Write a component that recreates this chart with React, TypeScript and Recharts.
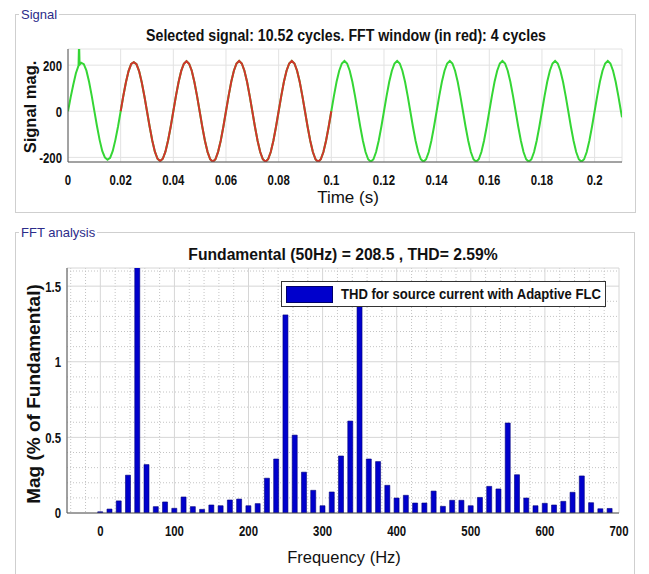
import React from "react";
import {
  LineChart, Line, BarChart, Bar, XAxis, YAxis, CartesianGrid, Legend,
} from "recharts";

// ---------- Signal panel data ----------
const sampleStep = 0.001; // s between samples
const signalValues: number[] = [
  // 0.000 - 0.019
  0, 60, 115, 165, 198, 210, 204, 176, 128, 68, 2, -64, -124, -172, -200, -210, -202, -172, -124, -66,
  // 0.020 - 0.039
  0, 66, 126, 174, 205, 213, 204, 174, 126, 66, 0, -66, -127, -175, -206, -216, -206, -175, -127, -67,
  // 0.040 - 0.059
  0, 67, 127, 175, 206, 217, 206, 176, 127, 67, 0, -67, -128, -176, -208, -219, -208, -176, -128, -67,
  // 0.060 - 0.079
  0, 67, 128, 176, 207, 218, 207, 176, 128, 67, 0, -67, -128, -177, -208, -219, -208, -177, -128, -67,
  // 0.080 - 0.099
  0, 67, 128, 176, 207, 218, 207, 176, 128, 67, 0, -67, -128, -177, -208, -220, -208, -177, -128, -67,
  // 0.100 - 0.119
  0, 67, 128, 176, 207, 218, 207, 176, 128, 67, 0, -67, -128, -177, -208, -219, -208, -177, -128, -67,
  // 0.120 - 0.139
  0, 67, 128, 176, 207, 218, 207, 176, 128, 67, 0, -67, -128, -177, -208, -219, -208, -177, -128, -67,
  // 0.140 - 0.159
  0, 67, 128, 176, 207, 218, 207, 176, 128, 67, 0, -67, -128, -177, -208, -219, -208, -177, -128, -67,
  // 0.160 - 0.179
  0, 67, 128, 176, 207, 218, 207, 176, 128, 67, 0, -67, -128, -177, -208, -219, -208, -177, -128, -67,
  // 0.180 - 0.199
  0, 67, 128, 176, 207, 218, 207, 176, 128, 67, 0, -67, -128, -177, -208, -219, -208, -177, -128, -67,
  // 0.200 - 0.210
  0, 67, 128, 176, 207, 218, 207, 176, 128, 67, 0,
];
// start-up transient spike and end point
const extraTimes: number[] = [0.0042, 0.0044, 0.2104];
const extraValues: number[] = [300, 202, -26];
const fftWindowStart = 0.02;
const fftWindowEnd = 0.1;
const timeTicks: number[] = [0, 0.02, 0.04, 0.06, 0.08, 0.1, 0.12, 0.14, 0.16, 0.18, 0.2];
const timeTickLabels: string[] = ["0", "0.02", "0.04", "0.06", "0.08", "0.1", "0.12", "0.14", "0.16", "0.18", "0.2"];
const signalTicks: number[] = [-200, 0, 200];

// ---------- FFT panel data ----------
const freqs: number[] = [
  0, 12.5, 25, 37.5, 50, 62.5, 75, 87.5, 100, 112.5, 125, 137.5, 150, 162.5, 175, 187.5,
  200, 212.5, 225, 237.5, 250, 262.5, 275, 287.5, 300, 312.5, 325, 337.5, 350, 362.5, 375, 387.5,
  400, 412.5, 425, 437.5, 450, 462.5, 475, 487.5, 500, 512.5, 525, 537.5, 550, 562.5, 575, 587.5,
  600, 612.5, 625, 637.5, 650, 662.5, 675, 687.5,
];
const mags: number[] = [
  0.008, 0.026, 0.08, 0.25, 100, 0.32, 0.042, 0.073, 0.031, 0.106, 0.042, 0.024, 0.053, 0.048, 0.086, 0.092,
  0.048, 0.062, 0.23, 0.357, 1.31, 0.515, 0.27, 0.15, 0.048, 0.139, 0.377, 0.608, 1.42, 0.357, 0.34, 0.183,
  0.099, 0.117, 0.066, 0.066, 0.145, 0.044, 0.084, 0.084, 0.048, 0.103, 0.176, 0.159, 0.595, 0.253, 0.099, 0.048,
  0.064, 0.053, 0.077, 0.137, 0.245, 0.068, 0.028, 0.03,
];
const freqDomain: [number, number] = [-45, 700];
const magDomain: [number, number] = [0, 1.62];
const freqTicks: number[] = [0, 100, 200, 300, 400, 500, 600, 700];
const freqMinor: number[] = [-40, -20, 20, 40, 60, 80, 120, 140, 160, 180, 220, 240, 260, 280, 320, 340, 360, 380, 420, 440, 460, 480, 520, 540, 560, 580, 620, 640, 660, 680];
const magTicks: number[] = [0, 0.5, 1, 1.5];
const magMinor: number[] = [0.1, 0.2, 0.3, 0.4, 0.6, 0.7, 0.8, 0.9, 1.1, 1.2, 1.3, 1.4, 1.6];
const legendLabel = "THD for source current with Adaptive FLC";

const FONT = "'Liberation Sans',Arial,Helvetica,sans-serif";
const AX = "#555555";
const GREEN = "#35d635";
const RED = "#d0352b";
const BLUE = "#0000cc";

type Row = { t: number; green: number; red: number | null };
const signalRows: Row[] = (() => {
  const pts: { t: number; v: number }[] = signalValues.map((v, i) => ({ t: +(i * sampleStep).toFixed(4), v }));
  extraTimes.forEach((t, i) => pts.push({ t, v: extraValues[i] }));
  pts.sort((a, b) => a.t - b.t);
  return pts.map((p) => ({
    t: p.t,
    green: p.v,
    red: p.t >= fftWindowStart - 1e-9 && p.t <= fftWindowEnd + 1e-9 ? p.v : null,
  }));
})();
const fftRows = freqs.map((f, i) => ({ f, mag: mags[i] }));

// minor grid positions through the axis scale (fallback: linear map of the plot box)
const minorXGen = (args: any) => {
  const s = args?.xAxis?.scale;
  const o = args?.offset ?? {};
  return freqMinor.map((v) =>
    typeof s === "function" ? s(v) : o.left + ((v - freqDomain[0]) / (freqDomain[1] - freqDomain[0])) * o.width,
  );
};
const minorYGen = (args: any) => {
  const s = args?.yAxis?.scale;
  const o = args?.offset ?? {};
  return magMinor.map((v) =>
    typeof s === "function" ? s(v) : o.top + o.height - ((v - magDomain[0]) / (magDomain[1] - magDomain[0])) * o.height,
  );
};

function Txt(props: {
  x: number; y: number; children: React.ReactNode; size: number; weight?: number | string;
  color?: string; rotate?: boolean; align?: "center" | "left"; bg?: string; sx?: number;
}) {
  const { x, y, children, size, weight = "normal", color = "#111", rotate, align = "center", bg, sx = 1 } = props;
  const tx = align === "center" ? "-50%" : "0";
  return (
    <div
      style={{
        position: "absolute", left: x, top: y, fontFamily: FONT, fontSize: size, fontWeight: weight as any,
        color, whiteSpace: "nowrap", lineHeight: 1, background: bg, padding: bg ? "0 2px" : 0,
        transform: `translate(${tx},-50%)${rotate ? " rotate(-90deg)" : ""} scaleX(${sx})`,
        transformOrigin: align === "center" ? "50% 50%" : "0 50%",
      }}
    >
      {children}
    </div>
  );
}

function NarrowTick(p: any) {
  const { x, y, textAnchor, payload, axis, fmt } = p;
  const label = fmt ? fmt(payload.value) : String(payload.value);
  const s = 0.76;
  return (
    <text
      x={x} y={y} textAnchor={textAnchor} dy={axis === "x" ? "0.72em" : "0.36em"}
      transform={`translate(${x} ${y}) scale(${s} 1) translate(${-x} ${-y})`}
      fontFamily={FONT} fontSize={15} fontWeight={700} fill="#111"
    >
      {label}
    </text>
  );
}

function LegendBox() {
  return (
    <div
      style={{
        width: 325, height: 26, border: "1px solid #333", background: "#fff", position: "relative",
        fontFamily: FONT, boxSizing: "border-box",
      }}
    >
      <div style={{ position: "absolute", left: 4, top: 4, width: 47, height: 17, background: BLUE, border: "1px solid #00006a", boxSizing: "border-box" }} />
      <div style={{ position: "absolute", left: 59, top: 12, transform: "translateY(-50%) scaleX(0.9)", transformOrigin: "0 50%", fontSize: 14.5, fontWeight: 700, color: "#111", whiteSpace: "nowrap", lineHeight: 1 }}>
        {legendLabel}
      </div>
    </div>
  );
}

export default function App() {
  const emptyFmt = () => "";
  const timeFmt = (v: number) => timeTickLabels[timeTicks.indexOf(v)] ?? "";
  return (
    <div style={{ position: "absolute", left: 0, top: 0, width: 649, height: 574, background: "#fff", overflow: "hidden" }}>
      {/* panel frames */}
      <div style={{ position: "absolute", left: 15, top: 14, width: 621, height: 199, border: "1px solid #cfcfcf", boxSizing: "border-box" }} />
      <div style={{ position: "absolute", left: 15, top: 232, width: 620, height: 400, border: "1px solid #cfcfcf", boxSizing: "border-box" }} />
      <Txt x={19} y={14} size={13} color="#2c2c8a" align="left" bg="#fff">Signal</Txt>
      <Txt x={19} y={232} size={13} color="#2c2c8a" align="left" bg="#fff">FFT analysis</Txt>

      {/* Signal chart */}
      <div style={{ position: "absolute", left: 0, top: 0 }}>
        <LineChart width={649} height={215} data={signalRows} margin={{ top: 49, right: 27, bottom: 23, left: 28 }}>
          <CartesianGrid stroke="#e2e2e2" strokeWidth={1} />
          <XAxis dataKey="t" type="number" domain={[0, 0.2104]} allowDataOverflow ticks={timeTicks} interval={0}
            tick={(p: any) => <NarrowTick {...p} axis="x" fmt={timeFmt} />}
            tickLine={false} tickSize={4} tickMargin={8} height={30} axisLine={{ stroke: AX }} />
          <XAxis xAxisId="bm" type="number" domain={[0, 0.2104]} ticks={timeTicks} interval={0} orientation="bottom" mirror height={0}
            tickFormatter={emptyFmt} axisLine={false} tickLine={{ stroke: AX }} tickSize={4} />
          <XAxis xAxisId="tm" type="number" domain={[0, 0.2104]} ticks={timeTicks} interval={0} orientation="top" mirror height={0}
            tickFormatter={emptyFmt} axisLine={{ stroke: AX }} tickLine={{ stroke: AX }} tickSize={4} />
          <YAxis type="number" domain={[-220, 270]} allowDataOverflow ticks={signalTicks} interval={0}
            tick={(p: any) => <NarrowTick {...p} axis="y" />}
            tickLine={false} tickSize={4} tickMargin={2} width={40} axisLine={{ stroke: AX }} />
          <YAxis yAxisId="lm" type="number" domain={[-220, 270]} ticks={signalTicks} interval={0} orientation="left" mirror width={0}
            tickFormatter={emptyFmt} axisLine={false} tickLine={{ stroke: AX }} tickSize={4} />
          <YAxis yAxisId="rm" type="number" domain={[-220, 270]} ticks={signalTicks} interval={0} orientation="right" mirror width={0}
            tickFormatter={emptyFmt} axisLine={{ stroke: AX }} tickLine={{ stroke: AX }} tickSize={4} />
          <Line dataKey="green" type="linear" stroke={GREEN} strokeWidth={2} dot={false} isAnimationActive={false} connectNulls />
          <Line dataKey="red" type="linear" stroke={RED} strokeWidth={2} dot={false} isAnimationActive={false} />
        </LineChart>
      </div>

      {/* FFT chart */}
      <div style={{ position: "absolute", left: 0, top: 0 }}>
        <BarChart width={649} height={574} data={fftRows} margin={{ top: 268, right: 30, bottom: 31, left: 27 }} barSize={5}>
          <CartesianGrid stroke="#c4c4c4" strokeDasharray="1 2"
            verticalCoordinatesGenerator={minorXGen} horizontalCoordinatesGenerator={minorYGen} />
          <CartesianGrid stroke="#d6d6d6" strokeWidth={1} />
          <XAxis dataKey="f" type="number" domain={freqDomain} allowDataOverflow ticks={freqTicks} interval={0}
            tick={(p: any) => <NarrowTick {...p} axis="x" />}
            tickLine={false} tickSize={4} tickMargin={8} height={30} axisLine={{ stroke: AX }} />
          <XAxis xAxisId="bm" type="number" domain={freqDomain} ticks={freqTicks} interval={0} orientation="bottom" mirror height={0}
            tickFormatter={emptyFmt} axisLine={false} tickLine={{ stroke: AX }} tickSize={4} />
          <XAxis xAxisId="tm" type="number" domain={freqDomain} ticks={freqTicks} interval={0} orientation="top" mirror height={0}
            tickFormatter={emptyFmt} axisLine={{ stroke: AX }} tickLine={{ stroke: AX }} tickSize={4} />
          <YAxis type="number" domain={magDomain} allowDataOverflow ticks={magTicks} interval={0}
            tick={(p: any) => <NarrowTick {...p} axis="y" />}
            tickLine={false} tickSize={4} tickMargin={2} width={40} axisLine={{ stroke: AX }} />
          <YAxis yAxisId="lm" type="number" domain={magDomain} ticks={magTicks} interval={0} orientation="left" mirror width={0}
            tickFormatter={emptyFmt} axisLine={false} tickLine={{ stroke: AX }} tickSize={4} />
          <YAxis yAxisId="rm" type="number" domain={magDomain} ticks={magTicks} interval={0} orientation="right" mirror width={0}
            tickFormatter={emptyFmt} axisLine={{ stroke: AX }} tickLine={{ stroke: AX }} tickSize={4} />
          <Bar dataKey="mag" name={legendLabel} fill={BLUE} stroke="#00007a" strokeWidth={0.6} isAnimationActive={false} />
          <Legend layout="horizontal" verticalAlign="middle" align="center" content={() => <LegendBox />}
            wrapperStyle={{ position: "absolute", left: 281, top: 281, width: 325, height: 26 }} />
        </BarChart>
      </div>

      {/* titles & labels */}
      <Txt x={346} y={36} size={16} weight={700} sx={0.885}>Selected signal: 10.52 cycles. FFT window (in red): 4 cycles</Txt>
      <Txt x={30} y={107} size={16.5} weight={700} rotate>Signal mag.</Txt>
      <Txt x={348} y={197} size={17}>Time (s)</Txt>
      <Txt x={343} y={255} size={16} weight={700} sx={0.98}>Fundamental (50Hz) = 208.5 , THD= 2.59%</Txt>
      <Txt x={33} y={394} size={19} weight={700} rotate>Mag (% of Fundamental)</Txt>
      <Txt x={344} y={557} size={16.5}>Frequency (Hz)</Txt>
    </div>
  );
}
